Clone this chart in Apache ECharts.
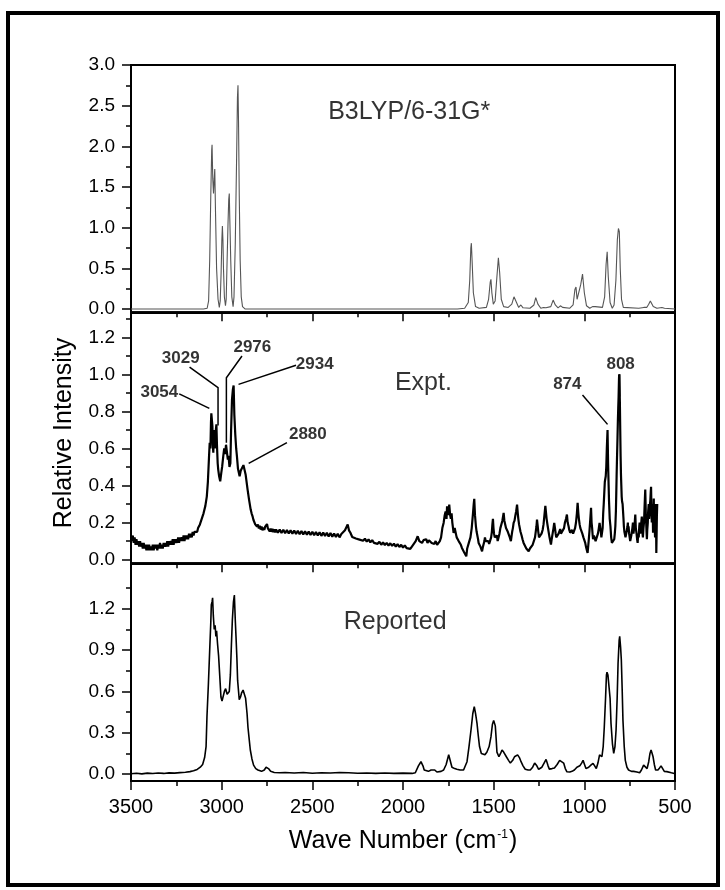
<!DOCTYPE html>
<html><head><meta charset="utf-8">
<style>html,body{margin:0;padding:0;background:#fff}#c{width:725px;height:890px}</style>
<script src="https://cdn.jsdelivr.net/npm/echarts@6/dist/echarts.min.js"></script>
</head><body><div id="c"></div>
<script>
// ---------------- data (wavenumber cm-1, relative intensity) ----------------
const calcSpectrum = [[3500,0],[3100,0],[3080,0.01],[3072,0.1],[3066,0.6],[3060,1.4],[3055,1.95],[3053,2.02],[3049,1.6],[3045,1.42],[3041,1.6],[3038,1.72],[3034,1.2],[3028,0.5],[3020,0.12],[3013,0.02],[3008,0.1],[3003,0.45],[2999,0.85],[2996,1.02],[2993,0.85],[2990,0.5],[2985,0.15],[2979,0.04],[2975,0.12],[2970,0.6],[2965,1.05],[2961,1.35],[2958,1.42],[2955,1.1],[2950,0.6],[2944,0.15],[2937,0.03],[2932,0.15],[2925,0.8],[2918,1.8],[2913,2.6],[2910,2.75],[2907,2.3],[2903,1.4],[2898,0.6],[2892,0.15],[2885,0.03],[2870,0],[1700,0],[1660,0.01],[1640,0.08],[1632,0.35],[1626,0.75],[1623,0.81],[1619,0.6],[1612,0.2],[1600,0.03],[1580,0.01],[1540,0.02],[1528,0.12],[1519,0.33],[1515,0.365],[1510,0.2],[1502,0.06],[1492,0.1],[1482,0.4],[1474,0.63],[1471,0.65],[1467,0.45],[1458,0.12],[1445,0.03],[1420,0.02],[1400,0.06],[1388,0.15],[1382,0.164],[1374,0.08],[1362,0.02],[1350,0.05],[1346,0.05],[1338,0.015],[1300,0.01],[1278,0.05],[1268,0.14],[1263,0.15],[1256,0.06],[1240,0.01],[1225,0.02],[1219,0.03],[1212,0.015],[1185,0.03],[1172,0.11],[1167,0.12],[1160,0.05],[1145,0.015],[1132,0.04],[1127,0.05],[1120,0.02],[1080,0.01],[1062,0.05],[1052,0.24],[1046,0.27],[1040,0.12],[1030,0.1],[1020,0.3],[1010,0.43],[1007,0.44],[1000,0.2],[988,0.04],[970,0.01],[955,0.03],[945,0.02],[940,0.03],[930,0.01],[900,0.02],[888,0.15],[880,0.55],[874,0.705],[868,0.4],[858,0.08],[846,0.01],[836,0.05],[826,0.35],[818,0.85],[812,0.99],[807,0.95],[802,0.5],[795,0.12],[785,0.02],[700,0.01],[672,0.02],[664,0.04],[656,0.02],[645,0.06],[636,0.10],[629,0.09],[620,0.03],[600,0.01],[572,0.02],[566,0.03],[558,0.01],[500,0]];

const exptSpectrum = [[3500,0.12],[3495,0.10],[3490,0.13],[3485,0.09],[3480,0.12],[3475,0.08],[3470,0.11],[3465,0.08],[3460,0.10],[3455,0.07],[3450,0.10],[3445,0.07],[3440,0.09],[3435,0.06],[3430,0.09],[3425,0.06],[3420,0.08],[3415,0.05],[3410,0.08],[3405,0.05],[3400,0.08],[3395,0.05],[3390,0.07],[3385,0.05],[3380,0.08],[3375,0.05],[3370,0.08],[3365,0.06],[3360,0.08],[3355,0.05],[3350,0.08],[3345,0.06],[3340,0.09],[3335,0.06],[3330,0.08],[3325,0.06],[3320,0.09],[3315,0.07],[3310,0.09],[3305,0.07],[3300,0.10],[3295,0.07],[3290,0.10],[3285,0.08],[3280,0.10],[3275,0.08],[3270,0.11],[3265,0.08],[3260,0.11],[3255,0.09],[3250,0.11],[3245,0.09],[3240,0.12],[3235,0.09],[3230,0.12],[3225,0.10],[3220,0.12],[3215,0.10],[3210,0.13],[3205,0.10],[3200,0.13],[3195,0.11],[3190,0.13],[3185,0.11],[3180,0.14],[3175,0.12],[3170,0.14],[3165,0.12],[3160,0.15],[3155,0.13],[3150,0.15],[3145,0.14],[3140,0.16],[3135,0.15],[3130,0.17],[3125,0.16],[3120,0.19],[3115,0.19],[3110,0.22],[3100,0.25],[3090,0.29],[3082,0.34],[3076,0.42],[3070,0.55],[3066,0.63],[3062,0.60],[3059,0.74],[3057,0.79],[3054,0.80],[3051,0.72],[3049,0.62],[3046,0.577],[3043,0.70],[3041,0.685],[3038,0.60],[3035,0.62],[3032,0.70],[3029,0.73],[3026,0.62],[3022,0.52],[3019,0.486],[3014,0.45],[3008,0.423],[3002,0.47],[2997,0.504],[2991,0.56],[2986,0.60],[2981,0.57],[2976,0.62],[2971,0.58],[2966,0.54],[2962,0.56],[2957,0.50],[2952,0.52],[2948,0.70],[2943,0.865],[2938,0.92],[2934,0.94],[2930,0.78],[2925,0.676],[2920,0.60],[2916,0.56],[2910,0.49],[2901,0.45],[2895,0.48],[2886,0.486],[2880,0.51],[2873,0.504],[2868,0.46],[2864,0.47],[2857,0.378],[2849,0.324],[2840,0.27],[2835,0.25],[2830,0.235],[2825,0.215],[2820,0.21],[2815,0.19],[2810,0.2],[2805,0.178],[2800,0.19],[2795,0.168],[2790,0.182],[2785,0.162],[2780,0.178],[2775,0.158],[2770,0.172],[2765,0.16],[2760,0.178],[2755,0.172],[2750,0.192],[2745,0.168],[2740,0.172],[2735,0.152],[2730,0.168],[2725,0.15],[2720,0.166],[2715,0.148],[2710,0.164],[2705,0.146],[2700,0.163],[2690,0.145],[2680,0.162],[2670,0.144],[2660,0.161],[2650,0.142],[2640,0.16],[2630,0.141],[2620,0.158],[2610,0.14],[2600,0.157],[2590,0.138],[2580,0.156],[2570,0.137],[2560,0.154],[2550,0.136],[2540,0.153],[2530,0.134],[2520,0.152],[2510,0.133],[2500,0.15],[2490,0.132],[2480,0.149],[2470,0.13],[2460,0.148],[2450,0.128],[2440,0.146],[2430,0.127],[2420,0.145],[2410,0.125],[2400,0.143],[2390,0.124],[2380,0.141],[2370,0.122],[2360,0.14],[2350,0.12],[2340,0.138],[2330,0.135],[2320,0.158],[2312,0.165],[2305,0.19],[2298,0.158],[2290,0.145],[2280,0.122],[2270,0.13],[2260,0.114],[2250,0.124],[2240,0.108],[2230,0.118],[2220,0.102],[2210,0.113],[2200,0.097],[2190,0.109],[2180,0.093],[2170,0.105],[2160,0.09],[2150,0.1],[2140,0.085],[2130,0.096],[2120,0.08],[2110,0.093],[2100,0.078],[2090,0.09],[2080,0.076],[2070,0.088],[2060,0.074],[2050,0.086],[2040,0.07],[2030,0.083],[2020,0.068],[2010,0.08],[2000,0.065],[1990,0.077],[1980,0.062],[1970,0.072],[1960,0.058],[1950,0.072],[1940,0.08],[1930,0.1],[1919,0.126],[1910,0.10],[1902,0.11],[1895,0.09],[1887,0.105],[1880,0.095],[1872,0.11],[1865,0.09],[1857,0.105],[1850,0.11],[1842,0.09],[1835,0.1],[1827,0.085],[1820,0.1],[1812,0.08],[1805,0.083],[1797,0.1],[1790,0.12],[1783,0.17],[1776,0.198],[1770,0.24],[1765,0.26],[1760,0.22],[1757,0.288],[1752,0.24],[1748,0.27],[1745,0.297],[1740,0.24],[1736,0.22],[1732,0.25],[1728,0.2],[1721,0.144],[1715,0.17],[1710,0.16],[1704,0.12],[1699,0.126],[1693,0.1],[1688,0.11],[1681,0.08],[1675,0.063],[1669,0.07],[1663,0.04],[1657,0.05],[1651,0.018],[1646,0.06],[1642,0.05],[1637,0.09],[1633,0.08],[1628,0.12],[1625,0.13],[1621,0.17],[1618,0.18],[1614,0.25],[1610,0.3],[1607,0.328],[1603,0.24],[1598,0.18],[1594,0.15],[1590,0.14],[1586,0.11],[1583,0.09],[1578,0.1],[1573,0.07],[1568,0.08],[1564,0.045],[1559,0.07],[1555,0.08],[1551,0.1],[1548,0.12],[1544,0.1],[1541,0.11],[1536,0.09],[1530,0.10],[1525,0.085],[1519,0.09],[1514,0.12],[1510,0.15],[1507,0.19],[1504,0.22],[1501,0.17],[1498,0.14],[1494,0.12],[1491,0.11],[1486,0.13],[1482,0.13],[1478,0.1],[1473,0.11],[1468,0.14],[1463,0.17],[1460,0.18],[1456,0.16],[1452,0.21],[1448,0.22],[1445,0.252],[1441,0.21],[1436,0.2],[1432,0.17],[1427,0.18],[1422,0.15],[1416,0.14],[1411,0.12],[1405,0.10],[1401,0.13],[1398,0.15],[1394,0.17],[1390,0.198],[1385,0.21],[1380,0.24],[1376,0.26],[1371,0.297],[1367,0.25],[1364,0.22],[1360,0.19],[1357,0.18],[1352,0.15],[1346,0.13],[1341,0.11],[1335,0.09],[1328,0.08],[1320,0.06],[1314,0.07],[1307,0.045],[1300,0.06],[1292,0.07],[1285,0.08],[1277,0.09],[1272,0.12],[1268,0.15],[1264,0.18],[1261,0.216],[1257,0.18],[1254,0.15],[1250,0.12],[1247,0.11],[1242,0.13],[1236,0.14],[1230,0.16],[1225,0.19],[1220,0.24],[1215,0.29],[1211,0.25],[1208,0.22],[1205,0.2],[1202,0.18],[1197,0.15],[1192,0.12],[1188,0.1],[1184,0.081],[1180,0.11],[1175,0.14],[1170,0.17],[1166,0.198],[1162,0.17],[1158,0.14],[1155,0.12],[1151,0.11],[1146,0.13],[1142,0.14],[1137,0.15],[1133,0.165],[1129,0.14],[1125,0.13],[1121,0.14],[1118,0.145],[1112,0.17],[1107,0.20],[1101,0.22],[1096,0.243],[1092,0.2],[1087,0.18],[1083,0.16],[1078,0.145],[1072,0.15],[1067,0.16],[1062,0.14],[1056,0.145],[1051,0.17],[1046,0.2],[1041,0.25],[1037,0.306],[1033,0.25],[1030,0.22],[1026,0.19],[1022,0.17],[1016,0.16],[1011,0.14],[1005,0.12],[1000,0.11],[995,0.09],[991,0.07],[986,0.05],[982,0.036],[977,0.09],[972,0.15],[967,0.22],[963,0.28],[960,0.2],[957,0.17],[954,0.13],[952,0.11],[947,0.13],[943,0.12],[938,0.1],[934,0.09],[930,0.11],[925,0.14],[920,0.17],[916,0.198],[912,0.17],[909,0.15],[906,0.12],[903,0.11],[899,0.17],[896,0.25],[893,0.3],[890,0.36],[887,0.42],[885,0.43],[882,0.45],[879,0.5],[876,0.60],[872,0.70],[869,0.52],[866,0.4],[864,0.32],[860,0.22],[856,0.18],[852,0.12],[848,0.09],[844,0.1],[841,0.08],[838,0.1],[835,0.11],[832,0.14],[829,0.18],[826,0.26],[824,0.35],[822,0.45],[820,0.54],[817,0.66],[815,0.75],[813,0.82],[811,0.88],[809,0.97],[808,1.0],[806,0.93],[804,0.85],[802,0.7],[800,0.56],[798,0.46],[796,0.4],[794,0.34],[792,0.315],[789,0.3],[787,0.29],[784,0.22],[782,0.18],[779,0.15],[776,0.16],[773,0.12],[770,0.11],[767,0.15],[765,0.14],[762,0.18],[760,0.2],[758,0.15],[756,0.18],[753,0.14],[750,0.13],[747,0.1],[744,0.09],[741,0.13],[738,0.12],[735,0.17],[732,0.2],[729,0.14],[726,0.15],[722,0.2],[719,0.243],[716,0.17],[712,0.14],[709,0.11],[706,0.09],[703,0.14],[700,0.12],[697,0.18],[695,0.2],[692,0.14],[688,0.16],[686,0.2],[683,0.232],[680,0.15],[677,0.12],[674,0.17],[671,0.2],[668,0.28],[666,0.33],[664,0.378],[661,0.25],[659,0.2],[657,0.15],[655,0.11],[653,0.16],[650,0.2],[648,0.26],[645,0.3],[643,0.22],[640,0.25],[638,0.3],[636,0.32],[634,0.36],[632,0.393],[630,0.28],[628,0.2],[626,0.26],[624,0.3],[622,0.2],[621,0.145],[619,0.25],[617,0.33],[616,0.22],[614,0.28],[612,0.18],[610,0.12],[608,0.22],[606,0.3],[604,0.15],[603,0.036],[601,0.16],[600,0.23],[598,0.3]];

const reportedSpectrum = [[3500,0.003],[3470,0.006],[3440,0.002],[3410,0.007],[3380,0.004],[3350,0.008],[3320,0.005],[3290,0.009],[3260,0.007],[3230,0.011],[3200,0.014],[3175,0.018],[3155,0.024],[3135,0.034],[3118,0.05],[3105,0.07],[3094,0.12],[3086,0.2],[3081,0.42],[3073,0.66],[3066,0.9],[3060,1.1],[3057,1.23],[3053,1.25],[3050,1.28],[3046,1.15],[3041,1.05],[3036,1.08],[3032,1.0],[3028,1.04],[3023,0.95],[3017,0.86],[3010,0.7],[3004,0.56],[2998,0.53],[2993,0.54],[2985,0.6],[2978,0.62],[2970,0.58],[2965,0.575],[2958,0.6],[2952,0.72],[2946,0.95],[2941,1.12],[2935,1.25],[2930,1.30],[2925,1.12],[2921,1.0],[2916,0.84],[2912,0.68],[2903,0.54],[2896,0.56],[2890,0.59],[2882,0.61],[2876,0.6],[2868,0.55],[2860,0.44],[2855,0.34],[2848,0.25],[2842,0.175],[2833,0.11],[2824,0.065],[2812,0.04],[2800,0.03],[2780,0.02],[2765,0.03],[2755,0.05],[2750,0.055],[2742,0.04],[2730,0.02],[2710,0.012],[2680,0.01],[2650,0.012],[2600,0.008],[2550,0.012],[2500,0.006],[2450,0.01],[2400,0.008],[2350,0.012],[2300,0.01],[2250,0.006],[2200,0.008],[2150,0.005],[2100,0.008],[2050,0.005],[2000,0.007],[1950,0.005],[1932,0.01],[1915,0.06],[1901,0.09],[1890,0.06],[1883,0.03],[1860,0.02],[1845,0.03],[1835,0.04],[1825,0.03],[1813,0.015],[1790,0.02],[1776,0.03],[1762,0.07],[1748,0.14],[1738,0.09],[1730,0.05],[1715,0.04],[1703,0.035],[1685,0.03],[1666,0.03],[1647,0.09],[1636,0.2],[1625,0.32],[1615,0.44],[1607,0.49],[1600,0.44],[1592,0.37],[1585,0.28],[1578,0.20],[1568,0.15],[1559,0.14],[1548,0.14],[1537,0.16],[1525,0.2],[1515,0.27],[1507,0.36],[1500,0.39],[1491,0.35],[1486,0.25],[1482,0.16],[1471,0.126],[1462,0.15],[1454,0.175],[1445,0.16],[1430,0.126],[1418,0.1],[1408,0.08],[1395,0.1],[1385,0.126],[1368,0.14],[1358,0.12],[1349,0.09],[1338,0.06],[1326,0.035],[1310,0.03],[1298,0.03],[1285,0.05],[1274,0.08],[1262,0.06],[1252,0.035],[1234,0.05],[1222,0.08],[1211,0.107],[1200,0.06],[1193,0.036],[1178,0.04],[1165,0.045],[1150,0.07],[1136,0.10],[1125,0.095],[1114,0.08],[1105,0.04],[1096,0.017],[1080,0.015],[1068,0.02],[1055,0.03],[1041,0.05],[1025,0.06],[1015,0.08],[1007,0.10],[999,0.07],[991,0.04],[983,0.04],[976,0.05],[964,0.065],[952,0.078],[943,0.06],[934,0.04],[925,0.08],[916,0.14],[909,0.13],[903,0.126],[896,0.2],[890,0.34],[883,0.55],[878,0.72],[875,0.74],[870,0.72],[864,0.71],[858,0.55],[853,0.37],[845,0.22],[838,0.15],[831,0.2],[825,0.32],[819,0.55],[814,0.805],[808,0.97],[805,1.0],[800,0.92],[796,0.83],[791,0.6],[787,0.39],[780,0.2],[774,0.10],[765,0.05],[756,0.03],[740,0.02],[728,0.02],[710,0.015],[695,0.01],[685,0.03],[673,0.065],[664,0.06],[654,0.04],[645,0.09],[638,0.15],[632,0.175],[626,0.15],[621,0.126],[614,0.07],[607,0.03],[594,0.03],[585,0.045],[577,0.06],[568,0.04],[559,0.02],[545,0.018],[535,0.015],[520,0.01],[504,0.005],[500,0.005]];

// axis ticks
const xMin = 500, xMax = 3500, xStep = 500;
const topMajor = [0, 0.5, 1.0, 1.5, 2.0, 2.5, 3.0];
const topMinor = [0.25, 0.75, 1.25, 1.75, 2.25, 2.75];
const midMajor = [0, 0.2, 0.4, 0.6, 0.8, 1.0, 1.2];
const midMinor = [0.1, 0.3, 0.5, 0.7, 0.9, 1.1, 1.3];
const botMajor = [0, 0.3, 0.6, 0.9, 1.2];
const botMinor = [0.15, 0.45, 0.75, 1.05, 1.35];

// annotations
const panelTitles = [
  {text: 'B3LYP/6-31G*', at: [2410, 2.41]},
  {text: 'Expt.', at: [2042, 0.951]},
  {text: 'Reported', at: [2324, 1.10]}
];
const peakTags = [
  {text: '3054', at: [3341, 0.899], line: [[3234, 0.895], [3068, 0.816]]},
  {text: '3029', at: [3223, 1.086], line: [[3177, 1.039], [3020, 0.928], [3020, 0.724]]},
  {text: '2976', at: [2828, 1.142], line: [[2888, 1.099], [2974, 0.982], [2974, 0.631]]},
  {text: '2934', at: [2484, 1.05], line: [[2590, 1.049], [2907, 0.946]]},
  {text: '2880', at: [2522, 0.671], line: [[2640, 0.631], [2851, 0.519]]},
  {text: '874', at: [1091, 0.943], line: [[1010, 0.888], [872, 0.73]]},
  {text: '808', at: [797, 1.05], line: [[805, 1.0], [805, 0.88]]}
];

// ---------------- chart ----------------
const F = "'Liberation Sans', Arial, sans-serif";
const grids = [
  {left: 131, right: 50, top: 65, height: 247.3},
  {left: 131, right: 50, top: 312.3, height: 251},
  {left: 131, right: 50, top: 563.3, height: 217.7}
];
const yRanges = [[-0.04, 3.0], [-0.02, 1.335], [-0.05, 1.53]];
const majors = [topMajor, midMajor, botMajor];
const minors = [topMinor, midMinor, botMinor];

function xAxis(i) {
  const last = i === 2;
  return {
    type: 'value', gridIndex: i, min: xMin, max: xMax, interval: xStep, inverse: true,
    axisLine: {show: true, onZero: false, lineStyle: {color: '#000', width: 2}},
    axisTick: {show: true, inside: false, length: 9, lineStyle: {color: '#000', width: 1.5}},
    minorTick: {show: true, splitNumber: 2, length: 5, lineStyle: {color: '#000', width: 1.5}},
    axisLabel: {show: last, margin: 16, color: '#000', fontSize: 20, fontFamily: F, showMinLabel: true, showMaxLabel: true,
      formatter: v => String(v)},
    splitLine: {show: false}, minorSplitLine: {show: false},
    name: last ? 'Wave Number (cm{sup|-1})' : '',
    nameLocation: 'middle', nameGap: 48,
    nameTextStyle: {color: '#000', fontSize: 25, fontFamily: F,
      rich: {sup: {fontSize: 12, fontFamily: F, color: '#000', verticalAlign: 'top', lineHeight: 12, padding: [0, 1, 0, 1]}}}
  };
}
function yMajor(i) {
  return {
    type: 'value', gridIndex: i, min: yRanges[i][0], max: yRanges[i][1], position: 'left',
    axisLine: {show: true, onZero: false, lineStyle: {color: '#000', width: 2}},
    axisTick: {show: true, inside: false, length: 9, customValues: majors[i], lineStyle: {color: '#000', width: 1.5}},
    axisLabel: {show: true, customValues: majors[i], formatter: v => Number(v).toFixed(1), margin: 16, color: '#000', fontSize: 19, fontFamily: F},
    splitLine: {show: false}
  };
}
function yMinor(i) {
  return {
    type: 'value', gridIndex: i, min: yRanges[i][0], max: yRanges[i][1], position: 'left',
    axisLine: {show: false},
    axisTick: {show: true, inside: false, length: 5, customValues: minors[i], lineStyle: {color: '#000', width: 1.5}},
    axisLabel: {show: false},
    splitLine: {show: false}
  };
}

const textSeries = (i, items, style) => ({
  type: 'scatter', xAxisIndex: i, yAxisIndex: 2 * i, symbolSize: 1, silent: true,
  itemStyle: {color: 'rgba(0,0,0,0)'},
  data: items.map(t => ({value: t.at, name: t.text})),
  label: Object.assign({show: true, formatter: p => p.name, color: '#000', fontFamily: F}, style),
  z: 5
});

const option = {
  animation: false,
  backgroundColor: '#fff',
  grid: grids.map(g => Object.assign({show: true, borderColor: '#000', borderWidth: 2, backgroundColor: 'transparent'}, g)),
  xAxis: [xAxis(0), xAxis(1), xAxis(2)],
  yAxis: [yMajor(0), yMinor(0), yMajor(1), yMinor(1), yMajor(2), yMinor(2)],
  series: [
    {type: 'line', xAxisIndex: 0, yAxisIndex: 0, data: calcSpectrum, showSymbol: false, symbol: 'none',
      lineStyle: {color: '#555', width: 1.1}, clip: true},
    {type: 'line', xAxisIndex: 1, yAxisIndex: 2, data: exptSpectrum, showSymbol: false, symbol: 'none',
      lineStyle: {color: '#000', width: 2.2}, clip: true},
    {type: 'line', xAxisIndex: 2, yAxisIndex: 4, data: reportedSpectrum, showSymbol: false, symbol: 'none',
      lineStyle: {color: '#000', width: 1.6}, clip: true},
    {type: 'lines', coordinateSystem: 'cartesian2d', xAxisIndex: 1, yAxisIndex: 2, polyline: true, silent: true,
      data: peakTags.map(p => ({coords: p.line})), lineStyle: {color: '#000', width: 1.5, opacity: 1}},
    textSeries(0, [panelTitles[0]], {position: [0, 0], align: 'left', verticalAlign: 'middle', fontSize: 25}),
    textSeries(1, [panelTitles[1]], {position: [0, 0], align: 'left', verticalAlign: 'middle', fontSize: 25}),
    textSeries(2, [panelTitles[2]], {position: [0, 0], align: 'left', verticalAlign: 'middle', fontSize: 25}),
    textSeries(1, peakTags, {position: [0, 0], align: 'center', verticalAlign: 'middle', fontSize: 17, fontWeight: 'bold'})
  ],
  graphic: [
    {type: 'rect', shape: {x: 8, y: 13, width: 710, height: 872}, style: {fill: 'none', stroke: '#000', lineWidth: 4}, z: 100},
    {type: 'text', x: 64, y: 433, rotation: Math.PI / 2,
      style: {text: 'Relative Intensity', fontSize: 25, fontFamily: F, fill: '#000', align: 'center', verticalAlign: 'middle'}}
  ]
};
const chart = echarts.init(document.getElementById('c'), null, {renderer: 'canvas'});
chart.setOption(option);
</script>
</body></html>
